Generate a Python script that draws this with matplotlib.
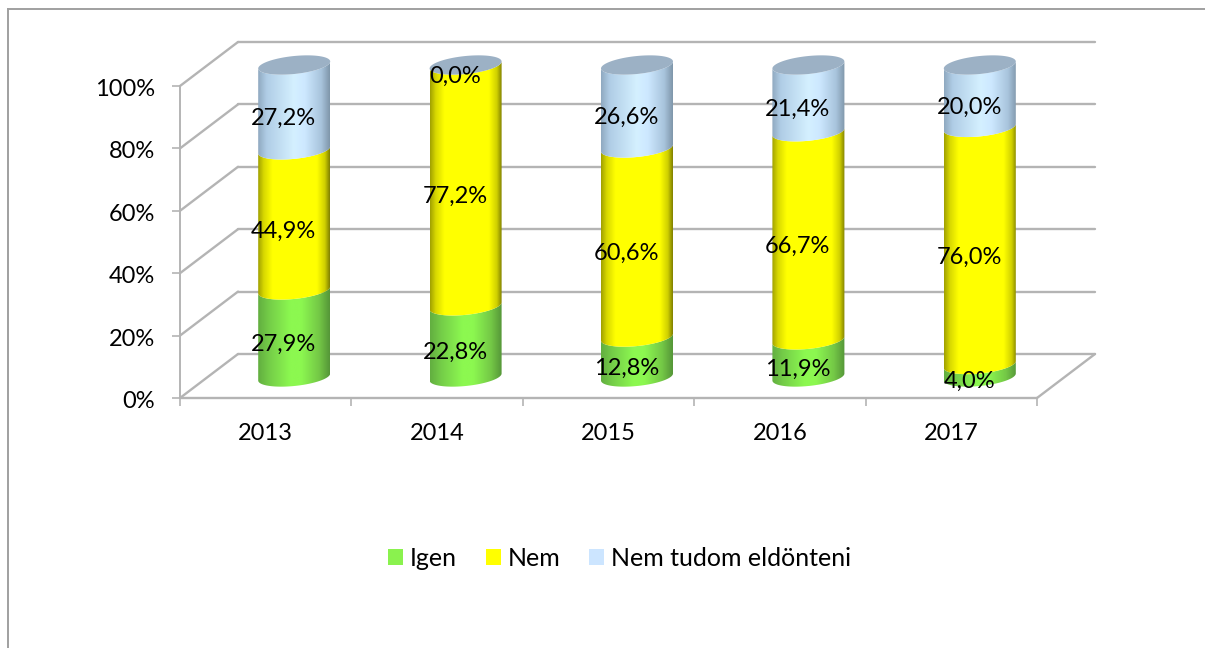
import numpy as np
import matplotlib
matplotlib.use("Agg")
import matplotlib.pyplot as plt
from matplotlib.colors import LinearSegmentedColormap
from matplotlib.lines import Line2D
from matplotlib.patches import Polygon, Rectangle
from matplotlib.transforms import Affine2D

years = ["2013", "2014", "2015", "2016", "2017"]
series_names = ["Igen", "Nem", "Nem tudom eldönteni"]
igen = [27.9, 22.8, 12.8, 11.9, 4.0]
nem = [44.9, 77.2, 60.6, 66.7, 76.0]
nem_tudom = [27.2, 0.0, 26.6, 21.4, 20.0]
y_ticks = [0, 20, 40, 60, 80, 100]

legend_colors = ["#8AF24E", "#FFFF00", "#CCE5FF"]
gradients = [
    [(0, "#62AE40"), (.15, "#74CC48"), (.45, "#8CF850"), (.6, "#8CF850"), (.85, "#74C846"), (1, "#559638")],
    [(0, "#A0A000"), (.08, "#D8D800"), (.2, "#FFFF00"), (.82, "#FFFF00"), (.93, "#D0D000"), (1, "#808000")],
    [(0, "#8FA9C0"), (.12, "#B0CDE6"), (.5, "#D4F0FF"), (.65, "#CDE8FF"), (.88, "#A8C4DC"), (1, "#7F96AA")],
]
top_color = "#9CB1C5"
grid_color = "#B4B4B4"
FONT = "Lato"
FS = 17
FS_LEG = 18

W, H = 1205, 648
fig = plt.figure(figsize=(W / 100, H / 100), dpi=100)
fig.patch.set_facecolor("white")
ax = fig.add_axes([180 / W, 1 - 398 / H, (1037 - 180) / W, (398 - 86) / H])
ax.set_xlim(0, 5)
ax.set_ylim(0, 100)
ax.set_facecolor("none")
for s in ax.spines.values():
    s.set_visible(False)

# outer frame: only top and left edges are visible in the crop
for xs, ys in [((8, W), (9, 9)), ((8, 8), (9, H))]:
    fig.add_artist(Line2D([x / W for x in xs], [1 - y / H for y in ys],
                          transform=fig.transFigure, color="#A0A0A0", lw=1.4))

# depth of the pseudo 3D box, in pixels
DX, DY = 58, 44
back = ax.transData + Affine2D().translate(DX, DY)
mid = ax.transData + Affine2D().translate(28.5, 21)

gl = dict(color=grid_color, lw=1.7, clip_on=False, solid_capstyle="round")
for v in y_ticks:
    ax.plot([0, 5], [v, v], transform=back, zorder=1, **gl)
    x0, y0 = ax.transData.transform((0, v))
    ax.plot([x0, x0 + DX], [y0, y0 + DY], transform=None, zorder=1, **gl)
x0, y0 = ax.transData.transform((5, 0))
ax.plot([x0, x0 + DX], [y0, y0 + DY], transform=None, zorder=1, **gl)
ax.plot([0, 5], [0, 0], zorder=1, **gl)
ax.plot([0, 0], [0, 100], color=grid_color, lw=1.4, clip_on=False, zorder=1)

ax.set_xticks(np.arange(6))
ax.set_xticklabels([])
ax.set_yticks(y_ticks)
ax.set_yticklabels([f"{v}%" for v in y_ticks], fontfamily=FONT, fontsize=FS)
ax.tick_params(axis="both", color=grid_color, width=1.2, length=6)
ax.tick_params(axis="y", pad=12)
for lab in ax.get_yticklabels():
    lab.set_transform(lab.get_transform() + Affine2D().translate(0, -1.5))
for i, lab in enumerate(years):
    ax.annotate(lab, (i + 0.5, 0), xytext=(0, -35), textcoords="offset pixels",
                ha="center", va="center", fontfamily=FONT, fontsize=FS, annotation_clip=False)

# cylinder geometry
HALF = 36 / (ax.transData.transform((1, 0))[0] - ax.transData.transform((0, 0))[0])
PCT = 100 / 312
B = 9 * PCT
S = 3.5 * PCT
t = np.linspace(np.pi, 2 * np.pi, 80)
ct, st = np.cos(t), np.sin(t)


def front_arc(cx, level):
    return cx + HALF * ct, level + B * st + S * ct


def segment_poly(cx, lo, hi):
    xl, yl = front_arc(cx, lo)
    xh, yh = front_arc(cx, hi)
    return np.column_stack([np.r_[xl, xh[::-1]], np.r_[yl, yh[::-1]]])


grad = np.linspace(0, 1, 256).reshape(1, -1)
series = [igen, nem, nem_tudom]
for i in range(len(years)):
    cx = i + 0.5
    base = 0.0
    for j, vals in enumerate(series):
        v = vals[i]
        if v > 0:
            poly = Polygon(segment_poly(cx, base, base + v), closed=True, clip_on=False,
                           transform=mid, facecolor="none", edgecolor="none", zorder=3)
            ax.add_patch(poly)
            cmap = LinearSegmentedColormap.from_list(f"g{j}", gradients[j])
            im = ax.imshow(grad, cmap=cmap, aspect="auto", interpolation="bilinear",
                           extent=(cx - HALF, cx + HALF, base - 6, base + v + 6),
                           zorder=3 + j * 0.1, transform=mid)
            im.set_clip_box(fig.bbox)
            im.set_clip_path(poly)
        base += v
    tt = np.linspace(0, 2 * np.pi, 120)
    ax.add_patch(Polygon(np.column_stack([cx + HALF * np.cos(tt),
                                          base + B * np.sin(tt) + S * np.cos(tt)]),
                         closed=True, transform=mid, facecolor=top_color, clip_on=False,
                         edgecolor="none", zorder=4))
ax.set_xlim(0, 5)
ax.set_ylim(0, 100)

# data labels
for i in range(len(years)):
    base = 0.0
    for vals in series:
        v = vals[i]
        ax.annotate(f"{v:.1f}%".replace(".", ","), (i + 0.5, base + v / 2),
                    xytext=(18, 10), textcoords="offset pixels",
                    ha="center", va="center", fontfamily=FONT, fontsize=FS,
                    color="black", zorder=6, annotation_clip=False)
        base += v

handles = [Rectangle((0, 0), 1, 1, facecolor=c, edgecolor="none") for c in legend_colors]
fig.legend(handles, series_names, loc="center", bbox_to_anchor=(619.5 / W, 1 - 558 / H),
           ncols=3, frameon=False, handlelength=0.6, handleheight=0.6, handletextpad=0.28,
           columnspacing=1.14, prop={"family": FONT, "size": FS_LEG})

fig.savefig("out.png", dpi=100)
